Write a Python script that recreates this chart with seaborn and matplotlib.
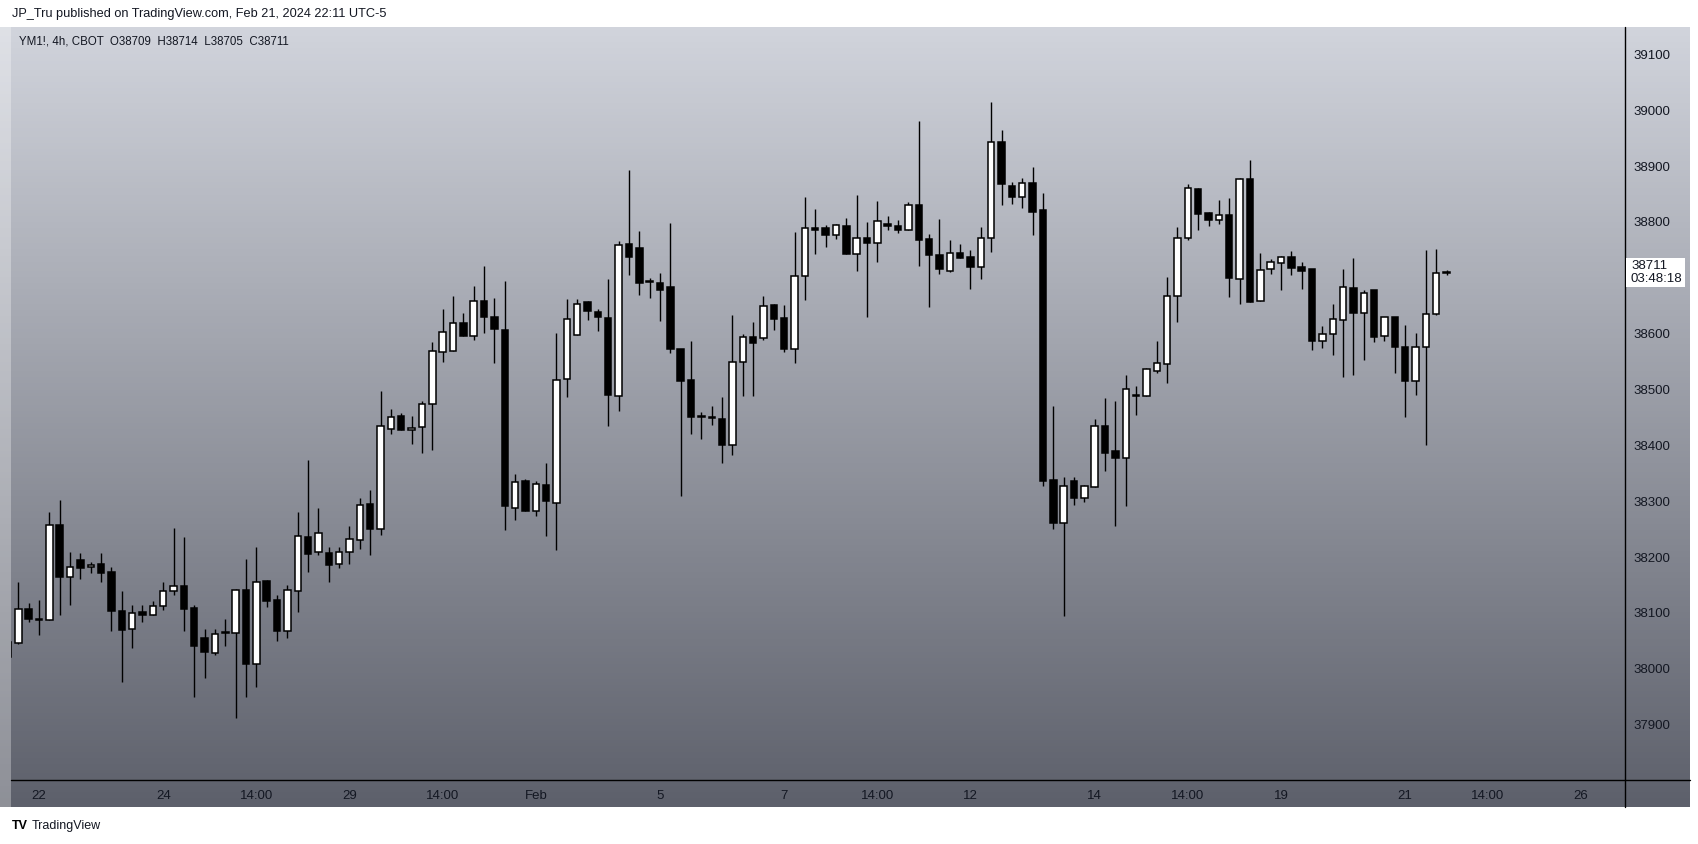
import numpy as np
import pandas as pd
import seaborn as sns
import matplotlib
matplotlib.use("Agg")
import matplotlib.pyplot as plt
from matplotlib.colors import LinearSegmentedColormap
from matplotlib.patches import Rectangle

# YM1! 4h candles, Jan 19 14:00 .. Feb 21 18:00
opens = [38021, 38046, 38108, 38087, 38087, 38257, 38165, 38195, 38183, 38187,
         38174, 38104, 38071, 38102, 38096, 38112, 38139, 38149, 38109, 38055,
         38029, 38064, 38065, 38141, 38008, 38157, 38123, 38067, 38139, 38236,
         38210, 38207, 38187, 38210, 38231, 38295, 38250, 38430, 38453, 38427,
         38433, 38475, 38567, 38569, 38620, 38595, 38658, 38629, 38606, 38288,
         38336, 38282, 38329, 38296, 38519, 38597, 38656, 38638, 38628, 38488,
         38760, 38753, 38692, 38690, 38683, 38572, 38517, 38450, 38449, 38447,
         38400, 38549, 38594, 38592, 38651, 38628, 38572, 38703, 38790, 38790,
         38776, 38793, 38743, 38771, 38762, 38796, 38792, 38785, 38830, 38769,
         38741, 38713, 38744, 38737, 38719, 38771, 38944, 38864, 38845, 38869,
         38822, 38338, 38261, 38336, 38306, 38326, 38434, 38390, 38377, 38488,
         38488, 38534, 38545, 38667, 38771, 38859, 38816, 38803, 38813, 38697,
         38876, 38658, 38715, 38726, 38737, 38719, 38716, 38586, 38599, 38625,
         38681, 38637, 38678, 38595, 38629, 38576, 38516, 38576, 38636, 38709]
highs = [38060, 38156, 38118, 38124, 38281, 38302, 38209, 38208, 38191, 38208,
         38183, 38140, 38115, 38115, 38122, 38156, 38252, 38236, 38114, 38071,
         38071, 38089, 38143, 38196, 38218, 38159, 38132, 38150, 38281, 38374,
         38288, 38219, 38219, 38256, 38306, 38320, 38498, 38465, 38458, 38453,
         38480, 38585, 38644, 38668, 38637, 38685, 38721, 38664, 38694, 38349,
         38340, 38336, 38368, 38601, 38662, 38662, 38659, 38644, 38698, 38766,
         38893, 38784, 38699, 38708, 38798, 38572, 38587, 38460, 38470, 38486,
         38633, 38600, 38621, 38668, 38653, 38651, 38782, 38845, 38823, 38795,
         38796, 38807, 38848, 38800, 38838, 38811, 38803, 38836, 38980, 38778,
         38805, 38767, 38760, 38750, 38791, 39014, 38964, 38871, 38878, 38898,
         38852, 38470, 38344, 38344, 38329, 38448, 38485, 38480, 38526, 38507,
         38539, 38587, 38702, 38791, 38868, 38860, 38818, 38840, 38843, 38878,
         38911, 38745, 38734, 38739, 38748, 38729, 38716, 38614, 38653, 38716,
         38736, 38678, 38678, 38629, 38629, 38615, 38601, 38749, 38751, 38714]
lows = [38010, 38044, 38083, 38060, 38087, 38097, 38115, 38160, 38172, 38155,
        38067, 37976, 38038, 38083, 38096, 38105, 38133, 38068, 37949, 37984,
        38024, 38040, 37912, 37949, 37967, 38110, 38049, 38056, 38101, 38174,
        38204, 38156, 38181, 38187, 38215, 38204, 38240, 38421, 38427, 38402,
        38387, 38391, 38550, 38569, 38595, 38588, 38601, 38548, 38248, 38266,
        38282, 38273, 38237, 38212, 38486, 38597, 38625, 38604, 38434, 38462,
        38705, 38670, 38663, 38622, 38565, 38310, 38421, 38412, 38437, 38368,
        38383, 38489, 38489, 38588, 38606, 38568, 38547, 38661, 38742, 38756,
        38770, 38742, 38713, 38629, 38729, 38785, 38780, 38785, 38722, 38647,
        38706, 38711, 38736, 38680, 38697, 38746, 38831, 38832, 38825, 38777,
        38328, 38250, 38094, 38293, 38298, 38325, 38355, 38255, 38291, 38455,
        38488, 38530, 38511, 38621, 38767, 38785, 38792, 38797, 38665, 38654,
        38656, 38658, 38706, 38679, 38705, 38680, 38571, 38575, 38562, 38523,
        38526, 38553, 38585, 38586, 38530, 38450, 38491, 38400, 38634, 38705]
closes = [38048, 38107, 38089, 38087, 38257, 38164, 38182, 38181, 38183, 38171,
          38103, 38070, 38100, 38096, 38112, 38139, 38148, 38108, 38040, 38031,
          38062, 38064, 38141, 38008, 38155, 38122, 38067, 38141, 38237, 38206,
          38244, 38185, 38210, 38232, 38294, 38251, 38434, 38451, 38427, 38431,
          38474, 38569, 38603, 38620, 38595, 38658, 38629, 38608, 38291, 38334,
          38282, 38331, 38301, 38517, 38626, 38654, 38640, 38629, 38491, 38758,
          38738, 38691, 38692, 38679, 38572, 38516, 38450, 38450, 38449, 38400,
          38549, 38594, 38584, 38649, 38627, 38572, 38703, 38790, 38785, 38776,
          38794, 38743, 38771, 38762, 38801, 38792, 38785, 38830, 38768, 38740,
          38715, 38744, 38736, 38720, 38771, 38944, 38868, 38845, 38869, 38818,
          38337, 38261, 38327, 38305, 38327, 38434, 38387, 38377, 38501, 38488,
          38537, 38547, 38667, 38771, 38860, 38815, 38803, 38812, 38699, 38876,
          38657, 38714, 38728, 38737, 38718, 38713, 38586, 38599, 38626, 38683,
          38637, 38672, 38594, 38629, 38577, 38516, 38577, 38636, 38708, 38711]

price_ticks = [37900, 38000, 38100, 38200, 38300, 38400, 38500, 38600,
               38800, 38900, 39000, 39100]
date_pos = [3, 15, 24, 33, 42, 51, 63, 75, 84, 93, 105, 114, 123, 135, 143, 152]
date_labels = ["22", "24", "14:00", "29", "14:00", "Feb", "5", "7", "14:00",
               "12", "14", "14:00", "19", "21", "14:00", "26"]
last_price = 38711
countdown = "03:48:18"

df = pd.DataFrame({"open": opens, "high": highs, "low": lows, "close": closes})
df["i"] = np.arange(len(df))
df["up"] = df["close"] >= df["open"]

sns.set_theme(style="white")
plt.rcParams["font.family"] = ["Liberation Sans", "DejaVu Sans"]
TXT = "#131722"

W, H = 1699, 844
fig = plt.figure(figsize=(W / 100, H / 100), dpi=100)

# pixel-space background: pane gradient, separators
bg = fig.add_axes([0, 0, 1, 1])
grad = np.linspace(0, 1, 256).reshape(-1, 1)
cmap = LinearSegmentedColormap.from_list("pane", ["#d1d4dc", "#5d606b"])
bg.imshow(grad, extent=[11, 1690, 807, 27], aspect="auto", cmap=cmap)
bg.imshow(grad, extent=[0, 11, 807, 27], aspect="auto", cmap=cmap, alpha=0.7)
bg.plot([11, 1690], [780, 780], color="black", lw=1)
bg.plot([1625, 1625], [27, 807], color="black", lw=1)
bg.set_xlim(0, W)
bg.set_ylim(H, 0)
bg.axis("off")

# candle pane
left, right, top, bottom = 11, 1625, 27, 780
ax = fig.add_axes([left / W, (H - bottom) / H, (right - left) / W, (bottom - top) / H])
ax.patch.set_alpha(0)
x0, step = 7.95, 10.35
ax.set_xlim((left - x0) / step, (right - x0) / step)
ymin, ymax = 37801, 39149
ax.set_ylim(ymin, ymax)

ax.vlines(df["i"], df["low"], df["high"], color="black", lw=1, zorder=2)
body_lo = df[["open", "close"]].min(axis=1)
body_h = (df["close"] - df["open"]).abs().clip(lower=2)
ax.bar(df["i"], body_h, bottom=body_lo, width=0.62,
       color=np.where(df["up"], "white", "black"), edgecolor="black",
       linewidth=1.1, zorder=3)

for s in ax.spines.values():
    s.set_visible(False)
ax.yaxis.tick_right()
ax.set_yticks(price_ticks)
ax.set_yticklabels([str(t) for t in price_ticks])
ax.tick_params(axis="y", length=0, pad=6, labelsize=9.5, labelcolor=TXT)
ax.set_xticks(date_pos)
ax.set_xticklabels(date_labels)
ax.tick_params(axis="x", length=0, pad=7, labelsize=9.5, labelcolor=TXT)
ax.grid(False)

# last price tag
y_px = top + (ymax - last_price) / (ymax - ymin) * (bottom - top)
bg.add_patch(Rectangle((1626, y_px - 14), 59, 29, facecolor="white", edgecolor="none", zorder=5))
bg.text(1631, y_px - 6, str(last_price), fontsize=9.5, color=TXT, va="center", zorder=6)
bg.text(1631, y_px + 7.5, countdown, fontsize=9.5, color=TXT, va="center", zorder=6)

# header / footer text
bg.text(12, 14, "JP_Tru published on TradingView.com, Feb 21, 2024 22:11 UTC-5",
        fontsize=9.2, color=TXT, va="center")
bg.text(19, 41, "YM1!, 4h, CBOT  O38709  H38714  L38705  C38711",
        fontsize=8.3, color=TXT, va="center")
bg.text(12, 826, "TV", fontsize=9, fontweight="bold", color="black", va="center")
bg.text(32, 826, "TradingView", fontsize=9, color=TXT, va="center")

fig.savefig("out.png", dpi=100)
